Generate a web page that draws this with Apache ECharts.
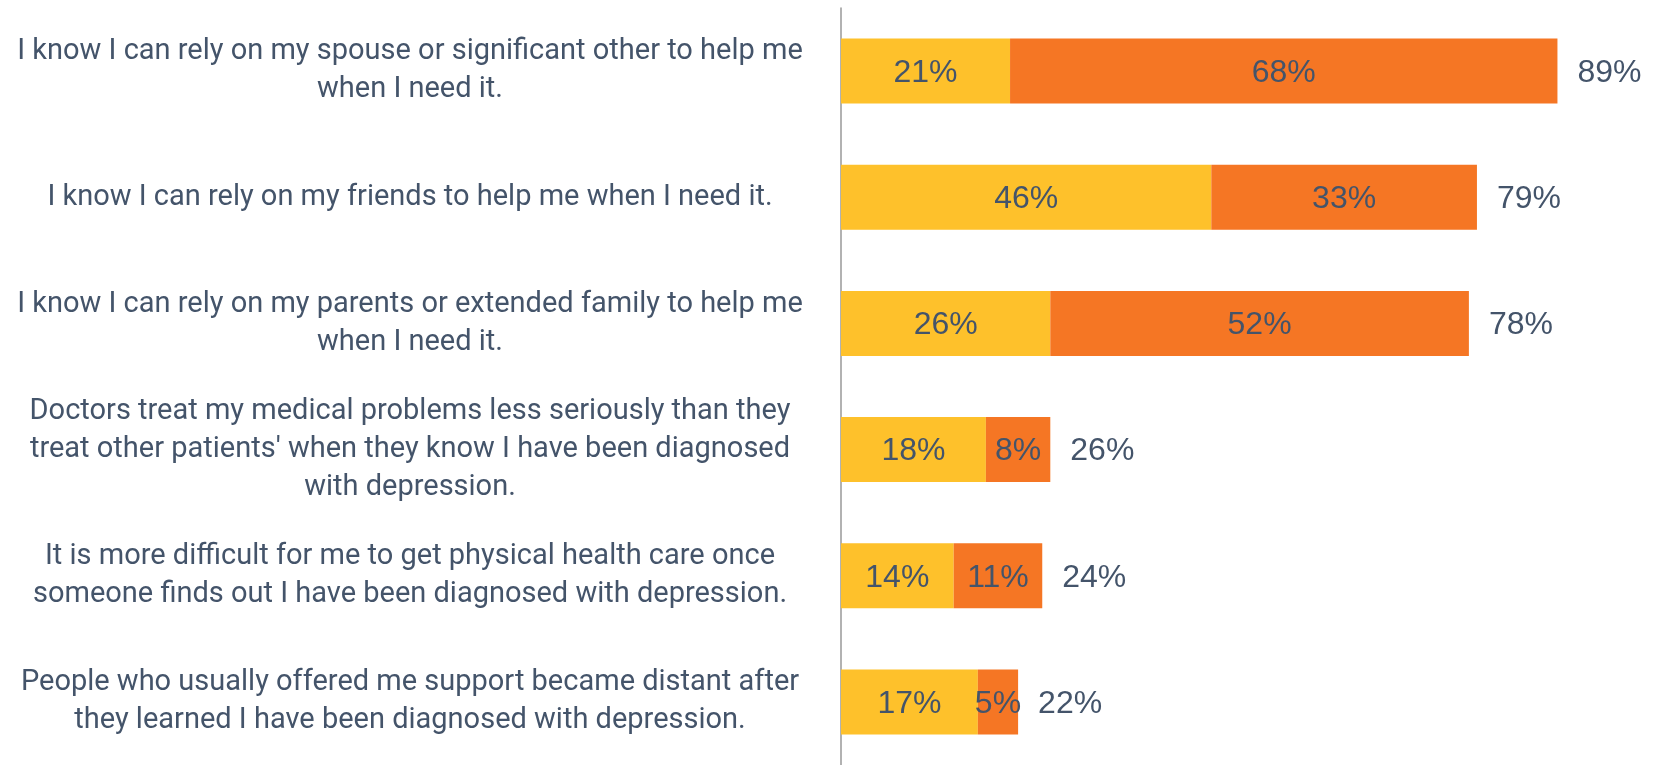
<!DOCTYPE html>
<html>
<head>
<meta charset="utf-8">
<script src="https://cdn.jsdelivr.net/npm/echarts@6/dist/echarts.min.js"></script>
<style>
  html, body { margin: 0; padding: 0; background: #fff; }
  #chart { width: 1657px; height: 765px; }
</style>
</head>
<body>
<div id="chart"></div>
<script>
// statements, top to bottom
var categories = [
  'I know I can rely on my spouse or significant other to help me\nwhen I need it.',
  'I know I can rely on my friends to help me when I need it.',
  'I know I can rely on my parents or extended family to help me\nwhen I need it.',
  'Doctors treat my medical problems less seriously than they\ntreat other patients\' when they know I have been diagnosed\nwith depression.',
  'It is more difficult for me to get physical health care once\nsomeone finds out I have been diagnosed with depression.',
  'People who usually offered me support became distant after\nthey learned I have been diagnosed with depression.'
]
var somewhatAgree = [21, 46, 26, 18, 14, 17]
var stronglyAgree = [68, 33, 52, 8, 11, 5]
var totals = [89, 79, 78, 26, 24, 22]

var textColor = '#44546a'
var chart = echarts.init(document.getElementById('chart'))

chart.setOption({
  animation: false,
  grid: {
    left: 841,
    top: 8,
    width: 805,
    height: 762
  },
  xAxis: {
    type: 'value',
    min: 0,
    max: 100,
    show: false
  },
  yAxis: {
    type: 'category',
    inverse: true,
    data: categories,
    axisTick: { show: false },
    axisLine: { lineStyle: { color: '#999', width: 1.5 } },
    axisLabel: {
      align: 'center',
      margin: 431,
      color: textColor,
      fontFamily: 'Roboto, sans-serif',
      fontSize: 29,
      lineHeight: 38
    }
  },
  series: [{
    name: 'Somewhat agree',
    type: 'bar',
    stack: 'all',
    barWidth: 65,
    data: somewhatAgree,
    itemStyle: { color: '#fec12b' },
    label: {
      show: true,
      position: 'inside',
      offset: [0, 2],
      formatter: '{c}%',
      color: textColor,
      fontFamily: 'Liberation Sans, Arial, sans-serif',
      fontSize: 32
    }
  }, {
    name: 'Strongly agree',
    type: 'bar',
    stack: 'all',
    barWidth: 65,
    data: stronglyAgree,
    itemStyle: { color: '#f57624' },
    label: {
      show: true,
      position: 'inside',
      offset: [0, 2],
      formatter: '{c}%',
      color: textColor,
      fontFamily: 'Liberation Sans, Arial, sans-serif',
      fontSize: 32
    }
  }, {
    // zero-length bar, only carries the total label at the end of the stack
    name: 'Total',
    type: 'bar',
    stack: 'all',
    barWidth: 65,
    data: totals.map(function () { return 0 }),
    itemStyle: { color: 'transparent' },
    label: {
      show: true,
      position: 'right',
      distance: 20,
      offset: [0, 2],
      formatter: function (p) { return totals[p.dataIndex] + '%' },
      color: textColor,
      fontFamily: 'Liberation Sans, Arial, sans-serif',
      fontSize: 32
    }
  }]
})
</script>
</body>
</html>
